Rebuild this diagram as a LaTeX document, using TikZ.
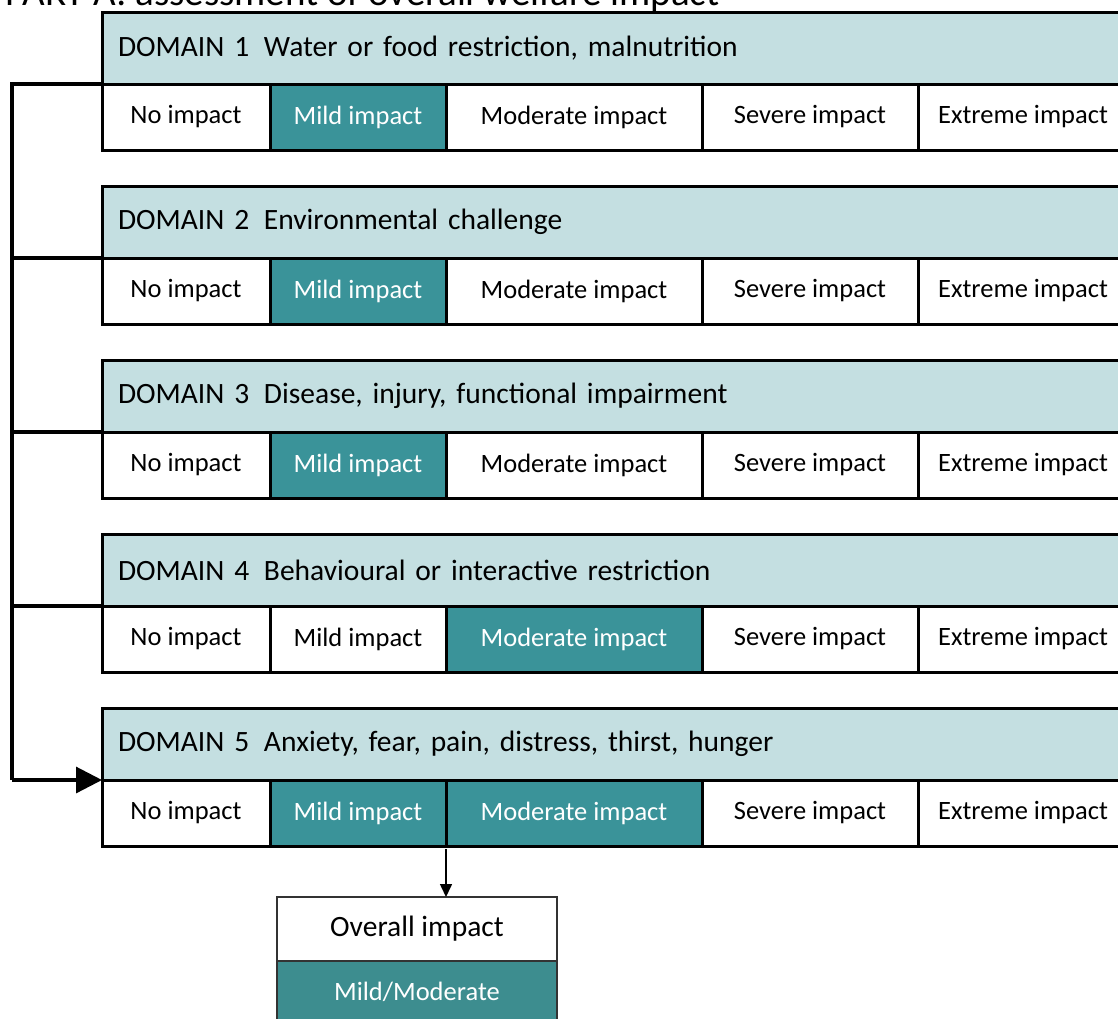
\documentclass[tikz,border=0pt]{standalone}
\usepackage{fontspec}
\setmainfont{Carlito}
\usetikzlibrary{arrows.meta}
\newcommand{\cma}{,}
\definecolor{hdrcol}{HTML}{C4DFE1}
\definecolor{tealcol}{HTML}{3A9399}
\definecolor{tealov}{HTML}{3D8D8F}
\definecolor{ovline}{HTML}{333333}
\tikzset{
  hdrbox/.style={draw=black, line width=3pt, fill=hdrcol, outer sep=0pt, anchor=north west,
    minimum height=72pt, text width=1000pt, align=left, inner xsep=16pt,
    font=\fontsize{29.5}{32}\selectfont},
  cellbox/.style={draw=black, line width=3pt, fill=white, outer sep=0pt, anchor=north west,
    minimum height=66pt, inner sep=0pt, font=\fontsize{26.5}{28}\selectfont},
  onbox/.style={cellbox, fill=tealcol, text=white},
  bus/.style={line width=3.2pt},
  ovbox/.style={draw=ovline, line width=1.3pt, fill=white, outer sep=0pt, anchor=north west,
    minimum width=280pt, inner sep=0pt, font=\fontsize{29.5}{32}\selectfont},
  ovteal/.style={ovbox, fill=tealov, text=white, font=\fontsize{26.5}{28}\selectfont}
}
\begin{document}
\begin{tikzpicture}[x=1pt,y=-1pt]
\useasboundingbox (0,0) rectangle (1118,1018);
\clip (0,0) rectangle (1118,1018);
\node[anchor=base west, inner sep=0pt, font=\fontsize{39}{42}\selectfont, text=black] (title) at (5,5.5) {PART A: assessment of overall welfare impact};
% domains
\foreach \i/\txt/\hl in {1/Water or food restriction\cma{} malnutrition/2,
                         2/Environmental challenge/2,
                         3/Disease\cma{} injury\cma{} functional impairment/2,
                         4/Behavioural or interactive restriction/3,
                         5/Anxiety\cma{} fear\cma{} pain\cma{} distress\cma{} thirst\cma{} hunger/23}{
  \pgfmathsetmacro{\ytop}{12+174*(\i-1)}
  \node[hdrbox] (h\i) at (102,\ytop) {DOMAIN \i\hspace{0.5em}\txt};
  \pgfmathsetmacro{\ycell}{\ytop+72}
  \foreach \j/\xa/\w/\lab in {1/102/168/No impact, 2/270/176/Mild impact, 3/446/256/Moderate impact, 4/702/216/Severe impact, 5/918/210/Extreme impact}{
    \def\sty{cellbox}
    \ifnum\hl=\j \def\sty{onbox}\fi
    \ifnum\hl=23 \ifnum\j=2 \def\sty{onbox}\fi \ifnum\j=3 \def\sty{onbox}\fi \fi
    \node[\sty, minimum width=\w pt] (c\i\j) at (\xa,\ycell) {\lab};
  }
}
% bracket bus
\coordinate (bt) at (12,84);
\coordinate (bb) at (12,780);
\draw[bus] (h1.south west) -- (bt) -- (bb);
\foreach \i in {2,3,4}{
  \draw[bus] (h\i.south west) -- (h\i.south west -| bt);
}
\draw[bus, -{Triangle[length=26pt,width=26pt]}] (bb) -- (h5.south west);
% overall
\node[ovbox, minimum height=64pt] (ov) at (277,897) {Overall impact};
\node[ovteal, minimum height=62pt] (ovr) at (277,961) {Mild/Moderate};
\draw[line width=1.5pt, -{Triangle[length=13pt,width=12pt]}] (c53.south west) ++(0,3) -- (c53.south west |- ov.north);
\end{tikzpicture}
\end{document}
